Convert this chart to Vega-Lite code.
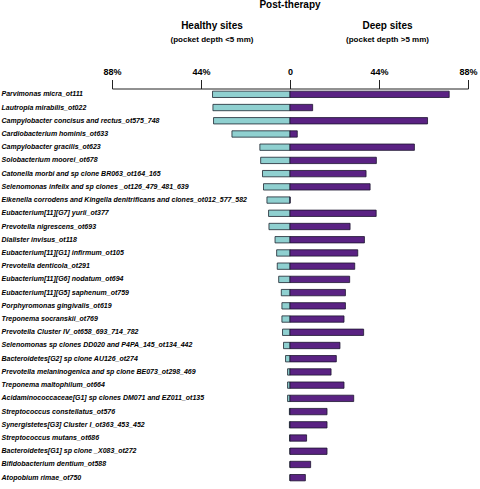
{
  "$schema": "https://vega.github.io/schema/vega-lite/v6.json",
  "padding": {"left": 1, "top": 0, "right": 0, "bottom": 0},
  "spacing": 23.5,
  "config": {
    "view": {"stroke": null},
    "font": "Liberation Sans",
    "axis": {"labelColor": "#000", "labelFont": "Liberation Sans"},
    "title": {"font": "Liberation Sans", "color": "#000"}
  },
  "datasets": {
    "taxa": [
      {"taxon": "Parvimonas micra_ot111", "healthy": 38.3, "deep": 78.7},
      {"taxon": "Lautropia mirabilis_ot022", "healthy": 38.1, "deep": 11.2},
      {"taxon": "Campylobacter concisus and rectus_ot575_748", "healthy": 37.8, "deep": 68.0},
      {"taxon": "Cardiobacterium hominis_ot633", "healthy": 28.7, "deep": 3.6},
      {"taxon": "Campylobacter gracilis_ot623", "healthy": 14.9, "deep": 61.5},
      {"taxon": "Solobacterium moorei_ot678", "healthy": 14.5, "deep": 42.7},
      {"taxon": "Catonella morbi and sp clone BR063_ot164_165", "healthy": 13.6, "deep": 37.6},
      {"taxon": "Selenomonas infelix and sp clones _ot126_479_481_639", "healthy": 13.1, "deep": 39.6},
      {"taxon": "Eikenella corrodens and Kingella denitrificans and clones_ot012_577_582", "healthy": 11.4, "deep": 0},
      {"taxon": "Eubacterium[11][G7] yurii_ot377", "healthy": 10.6, "deep": 42.6},
      {"taxon": "Prevotella nigrescens_ot693", "healthy": 10.4, "deep": 29.7},
      {"taxon": "Dialister invisus_ot118", "healthy": 7.4, "deep": 36.8},
      {"taxon": "Eubacterium[11][G1] infirmum_ot105", "healthy": 6.6, "deep": 33.5},
      {"taxon": "Prevotella denticola_ot291", "healthy": 6.3, "deep": 32.0},
      {"taxon": "Eubacterium[11][G6] nodatum_ot694", "healthy": 5.6, "deep": 29.5},
      {"taxon": "Eubacterium[11][G5] saphenum_ot759", "healthy": 4.3, "deep": 27.4},
      {"taxon": "Porphyromonas gingivalis_ot619", "healthy": 4.0, "deep": 27.4},
      {"taxon": "Treponema socranskii_ot769", "healthy": 4.0, "deep": 26.7},
      {"taxon": "Prevotella Cluster IV_ot658_693_714_782", "healthy": 3.7, "deep": 36.4},
      {"taxon": "Selenomonas sp clones DD020 and P4PA_145_ot134_442", "healthy": 3.2, "deep": 24.7},
      {"taxon": "Bacteroidetes[G2] sp clone AU126_ot274", "healthy": 2.2, "deep": 22.9},
      {"taxon": "Prevotella melaninogenica and sp clone BE073_ot298_469", "healthy": 1.2, "deep": 20.3},
      {"taxon": "Treponema maltophilum_ot664", "healthy": 1.2, "deep": 26.7},
      {"taxon": "Acidaminococcaceae[G1] sp clones DM071 and EZ011_ot135", "healthy": 1.2, "deep": 31.5},
      {"taxon": "Streptococcus constellatus_ot576", "healthy": 0.3, "deep": 18.3},
      {"taxon": "Synergistetes[G3] Cluster I_ot363_453_452", "healthy": 0.3, "deep": 18.3},
      {"taxon": "Streptococcus mutans_ot686", "healthy": 0.2, "deep": 8.2},
      {"taxon": "Bacteroidetes[G1] sp clone _X083_ot272", "healthy": 0, "deep": 18.3},
      {"taxon": "Bifidobacterium dentium_ot588", "healthy": 0, "deep": 10.2},
      {"taxon": "Atopobium rimae_ot750", "healthy": 0, "deep": 7.6}
    ],
    "headers": [
      {"side": "Healthy sites", "depth": "(pocket depth <5 mm)"},
      {"side": "Deep sites", "depth": "(pocket depth >5 mm)"}
    ]
  },
  "vconcat": [
    {
      "width": 356,
      "height": 12.5,
      "title": {"text": "Post-therapy", "fontSize": 10, "fontWeight": "bold", "anchor": "middle", "frame": "group", "offset": 11},
      "data": {"name": "headers"},
      "encoding": {
        "x": {"field": "side", "type": "nominal", "scale": {"type": "point", "domain": ["Healthy sites", "Deep sites"], "padding": 0.514, "align": 0.554}, "axis": null}
      },
      "layer": [
        {
          "mark": {"type": "text", "fontSize": 10, "fontWeight": "bold", "baseline": "alphabetic", "color": "#000"},
          "encoding": {
            "y": {"datum": "head", "type": "nominal", "scale": {"type": "point", "domain": ["head", "sub"], "padding": 0}, "axis": null},
            "text": {"field": "side"}
          }
        },
        {
          "mark": {"type": "text", "fontSize": 8, "fontWeight": "bold", "baseline": "alphabetic", "color": "#000"},
          "encoding": {
            "y": {"datum": "sub", "type": "nominal"},
            "text": {"field": "depth"}
          }
        }
      ]
    },
    {
      "width": 356,
      "height": 395,
      "data": {"name": "taxa"},
      "resolve": {"scale": {"x": "independent"}, "axis": {"x": "independent"}},
      "encoding": {
        "y": {
          "field": "taxon", "type": "nominal", "sort": null,
          "scale": {"paddingInner": 0.52, "paddingOuter": 0.2},
          "axis": {
            "title": null, "orient": "left", "ticks": false, "domain": false,
            "labelAlign": "left", "labelPadding": 111, "labelLimit": 400,
            "labelFontSize": 7, "labelFontWeight": "bold", "labelFontStyle": "italic"
          }
        }
      },
      "layer": [
        {
          "mark": {"type": "bar", "color": "#8fd0d0", "stroke": "#1d2530", "strokeWidth": 0.8},
          "encoding": {
            "x": {"field": "healthy", "type": "quantitative", "scale": {"domain": [-88, 88], "reverse": true}, "axis": null}
          }
        },
        {
          "mark": {"type": "bar", "color": "#5a2283", "stroke": "#1d1530", "strokeWidth": 0.8},
          "encoding": {
            "x": {
              "field": "deep", "type": "quantitative", "scale": {"domain": [-88, 88]},
              "axis": {
                "orient": "top", "title": null, "values": [-88, -44, 0, 44, 88],
                "labelExpr": "datum.value == 0 ? '0' : abs(datum.value) + '%'",
                "grid": false, "tickSize": 9, "tickColor": "#222", "domainColor": "#222",
                "tickWidth": 1, "domainWidth": 1,
                "labelFontSize": 9, "labelFontWeight": "bold", "labelPadding": 3, "labelFlush": false
              }
            }
          }
        },
        {
          "mark": {"type": "rule", "color": "#222", "strokeWidth": 1},
          "encoding": {
            "x": {"datum": 0, "type": "quantitative", "scale": {"domain": [-88, 88]}, "axis": null}
          }
        }
      ]
    }
  ]
}
